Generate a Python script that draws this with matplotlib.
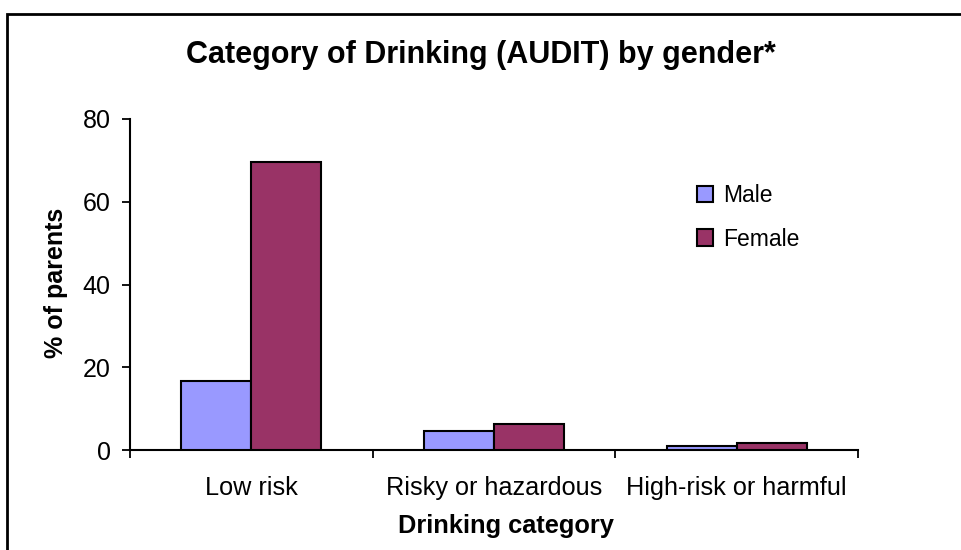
import matplotlib
matplotlib.use("Agg")
import matplotlib.pyplot as plt
from matplotlib.patches import Rectangle, Patch
import numpy as np

plt.rcParams['font.family'] = ['Liberation Sans', 'DejaVu Sans']

categories = ["Low risk", "Risky or hazardous", "High-risk or harmful"]
male = [16.7, 4.7, 0.9]
female = [69.6, 6.3, 1.8]
series_names = ["Male", "Female"]
yticks = [0, 20, 40, 60, 80]

W, H = 961, 550
fig = plt.figure(figsize=(W / 100, H / 100), dpi=100)

def fx(px):
    return px / W

def fy(py):
    return 1 - py / H

ax = fig.add_axes([fx(130), fy(450), fx(858) - fx(130), fy(119) - fy(450)])

x = np.arange(len(categories))
bw = 0.288
ax.bar(x - bw / 2, male, width=bw, color="#9999FF", edgecolor="black", linewidth=1.5, zorder=3)
ax.bar(x + bw / 2, female, width=bw, color="#993366", edgecolor="black", linewidth=1.5, zorder=3)

ax.set_xlim(-0.5, len(categories) - 0.5)
ax.set_ylim(0, 80)
ax.set_yticks(yticks)
ax.tick_params(axis='y', direction='out', length=6, width=1.3, labelsize=18, pad=8)

ax.set_xticks(np.arange(len(categories) + 1) - 0.5)
ax.set_xticklabels([])
ax.tick_params(axis='x', which='major', direction='out', length=6, width=1.3)
ax.set_xticks(x, minor=True)
ax.set_xticklabels(categories, minor=True, fontsize=18.2)
ax.tick_params(axis='x', which='minor', length=0, pad=19)

for s in ['top', 'right']:
    ax.spines[s].set_visible(False)
for s in ['left', 'bottom']:
    ax.spines[s].set_linewidth(1.5)

fig.text(fx(481), fy(63.5), "Category of Drinking (AUDIT) by gender*", ha='center', va='baseline',
         fontsize=22, fontweight='bold')
fig.text(fx(56), fy(283), "% of parents", ha='center', va='center', rotation=90,
         fontsize=18, fontweight='bold')
fig.text(fx(506), fy(533), "Drinking category", ha='center', va='baseline',
         fontsize=18.3, fontweight='bold')

handles = [Patch(facecolor="#9999FF", edgecolor="black", linewidth=1.5),
           Patch(facecolor="#993366", edgecolor="black", linewidth=1.5)]
fig.legend(handles, series_names, loc='upper left', bbox_to_anchor=(fx(690), fy(177)),
           frameon=False, fontsize=16.5, handlelength=0.7, handleheight=0.7,
           handletextpad=0.45, labelspacing=0.9, borderaxespad=0, borderpad=0.3)

rect = Rectangle((fx(6.5), -0.05), 1.1, fy(13.5) + 0.05, transform=fig.transFigure,
                 fill=False, edgecolor='black', linewidth=2, clip_on=False)
fig.patches.append(rect)

fig.savefig("out.png", dpi=100)
